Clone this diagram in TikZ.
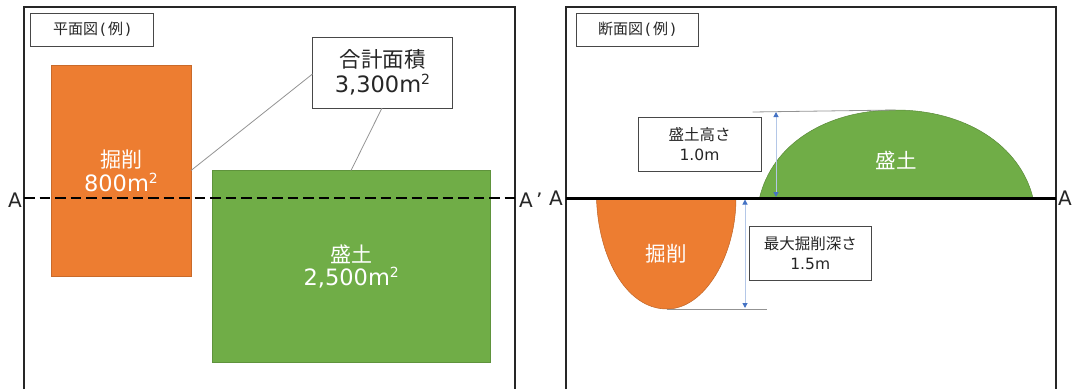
\documentclass[tikz,border=0pt]{standalone}
\usepackage{fontspec}
\setmainfont{DejaVu Sans}
\newfontfamily\cjk{Noto Sans CJK JP}
\usetikzlibrary{arrows.meta}
\definecolor{ink}{HTML}{262626}
\definecolor{cutcol}{HTML}{ED7D31}
\definecolor{fillcol}{HTML}{70AD47}
\definecolor{arrowline}{HTML}{B4C7E7}
\definecolor{arrowtip}{HTML}{4472C4}
\newcommand{\rectnode}[6]{%
  \pgfmathsetmacro{\rcx}{(#2+#4)/2}\pgfmathsetmacro{\rcy}{(#3+#5)/2}%
  \pgfmathsetmacro{\rw}{#4-#2}\pgfmathsetmacro{\rh}{#5-#3}%
  \node[#6,minimum width=\rw pt,minimum height=\rh pt] (#1) at (\rcx,\rcy)}
\newcommand{\sqm}{m\raisebox{8pt}{\fontsize{14}{14}\selectfont 2}}
\tikzset{
  base/.style={inner sep=0pt,outer sep=0pt,align=center,text=ink},
  frame/.style={base},
  frameline/.style={draw=ink,line width=1.4pt},
  tag/.style={base,draw=ink!85,fill=white,line width=1pt,font=\fontsize{15}{19}\selectfont},
  totalbox/.style={base,draw=ink!85,fill=white,line width=1pt,font=\fontsize{21.5}{25}\selectfont},
  dimbox/.style={base,draw=ink!85,fill=white,line width=1pt,font=\fontsize{15.5}{19.5}\selectfont},
  cutarea/.style={base,fill=cutcol,draw=cutcol!85!black,line width=.5pt,text=white,font=\fontsize{21}{23.5}\selectfont},
  fillarea/.style={base,fill=fillcol,draw=fillcol!85!black,line width=.5pt,text=white,font=\fontsize{21}{23.5}\selectfont},
  letter/.style={base,font=\fontsize{20}{20}\selectfont},
  areatext/.style={base,text=white,font=\fontsize{20.5}{24}\selectfont},
  leader/.style={draw=gray!85,line width=.8pt},
  dim/.style={draw=arrowline,line width=1pt,{Triangle[length=5pt,width=5pt,color=arrowtip]}-{Triangle[length=5pt,width=5pt,color=arrowtip]}},
}
\begin{document}
\begin{tikzpicture}[x=1pt,y=-1pt]
\useasboundingbox (0,0) rectangle (1076,389);
% frames
\rectnode{planframe}{24}{7}{515}{389}{frame}{};
\rectnode{secframe}{566}{7}{1056}{389}{frame}{};
\draw[frameline] (planframe.south west) -- (planframe.north west) -- (planframe.north east) -- (planframe.south east);
\draw[frameline] (secframe.south west) -- (secframe.north west) -- (secframe.north east) -- (secframe.south east);
% plan view
\rectnode{plantag}{30.5}{13}{153.5}{46}{tag}{{\cjk 平面図}\kern2pt(\kern2pt{\cjk 例}\kern2pt)};
\rectnode{plancut}{51}{65}{191}{276.5}{cutarea}{{\cjk 掘削}\\{\fontsize{22.5}{23.5}\selectfont 800\sqm}};
\rectnode{planfill}{212.5}{170.5}{490}{362}{fillarea}{{\cjk 盛土}\\{\fontsize{22.5}{23.5}\selectfont 2,500\sqm}};
\rectnode{total}{312.5}{37}{452.5}{108}{totalbox}{{\cjk 合計面積}\\{\fontsize{22.5}{25}\selectfont 3,300\sqm}};
\coordinate (totalleft) at (312.5,74);
\coordinate (cutjoin) at (191,170.5);
\coordinate (totalbottom) at (382,108);
\coordinate (filljoin) at (351,170.5);
\draw[leader] (cutjoin) -- (totalleft);
\draw[leader] (filljoin) -- (totalbottom);
\node[letter] (aleft) at (15,200) {A};
\node[letter,anchor=west] (aright) at (519,200) {A\,’};
\coordinate (dashy) at (0,198);
\draw[line width=2pt,dash pattern=on 10.5pt off 5pt] (planframe.west |- dashy) -- (planframe.east |- dashy);
% section view
\coordinate (m0) at (759.5,198);
\coordinate (mtop) at (895.6,110);
\coordinate (m1) at (1033,198);
\coordinate (e0) at (596.5,198);
\coordinate (ebot) at (667,309);
\coordinate (e1) at (736,198);
\draw[fill=fillcol,draw=fillcol!80!black,line width=.5pt] (m0) .. controls (772,145) and (825,110) .. (mtop) .. controls (965,110) and (1020,145) .. (m1) -- cycle;
\draw[fill=cutcol,draw=cutcol!80!black,line width=.5pt] (e0) .. controls (598,255) and (625,309) .. (ebot) .. controls (705,309) and (736,255) .. (e1) -- cycle;
\node[areatext] (secfilltext) at (896,160) {\cjk 盛土};
\node[areatext] (seccuttext) at (666,254) {\cjk 掘削};
\rectnode{sectag}{576}{13}{698}{46}{tag}{{\cjk 断面図}\kern2pt(\kern2pt{\cjk 例}\kern2pt)};
\rectnode{heightbox}{638}{117}{761}{171}{dimbox}{{\cjk 盛土高さ}\\1.0m};
\rectnode{depthbox}{749}{226.5}{871.5}{280}{dimbox}{{\cjk 最大掘削深さ}\\1.5m};
\coordinate (htop0) at (752.5,112);
\coordinate (dbot1) at (767,309);
\coordinate (hup) at (776,112);
\coordinate (hdown) at (776,197);
\coordinate (dup) at (745,199.5);
\coordinate (ddown) at (745,308);
\draw[gray!85,line width=.8pt] (htop0) -- (mtop);
\draw[gray!85,line width=.8pt] (ebot) -- (dbot1);
\draw[dim] (hup) -- (hdown);
\draw[dim] (dup) -- (ddown);
\node[letter] (asl) at (556,198) {A};
\node[letter] (asr) at (1065,198) {A};
\draw[line width=3pt] (secframe.west |- dashy) -- (secframe.east |- dashy);
\end{tikzpicture}
\end{document}
